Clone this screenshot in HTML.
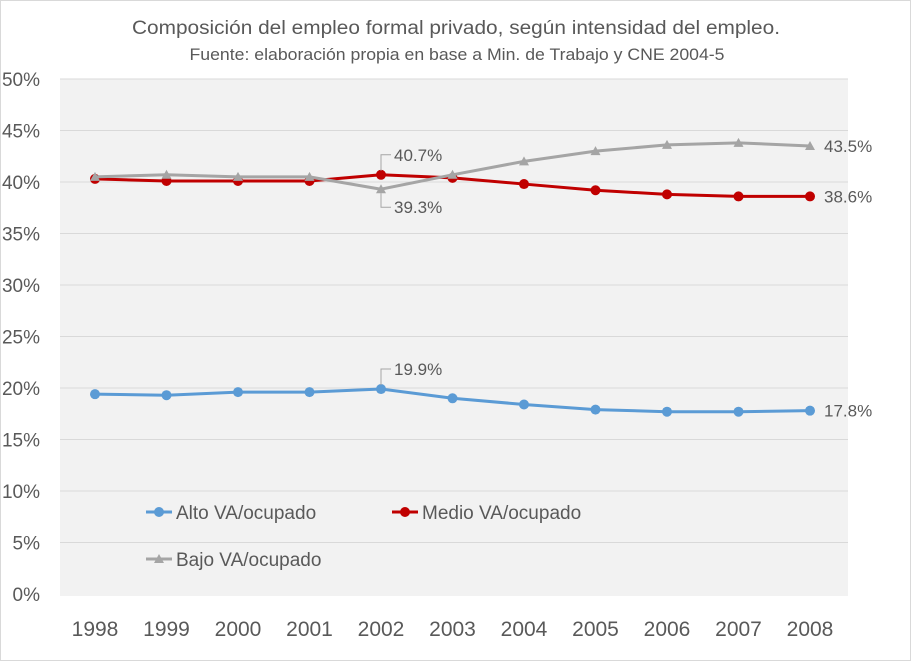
<!DOCTYPE html>
<html><head><meta charset="utf-8"><style>
body{margin:0;background:#fff;font-family:"Liberation Sans",sans-serif;}
svg text{font-family:"Liberation Sans",sans-serif;}
</style></head><body>
<svg width="912" height="662">
<rect x="0.5" y="0.5" width="910" height="660" fill="#fff" stroke="#d9d9d9"/>
<text x="456" y="34" text-anchor="middle" font-size="19" fill="#595959" textLength="648" lengthAdjust="spacingAndGlyphs">Composición  del empleo formal privado, según intensidad del empleo.</text>
<text x="457" y="60" text-anchor="middle" font-size="16.5" fill="#595959" textLength="535" lengthAdjust="spacingAndGlyphs">Fuente: elaboración propia en base a Min. de Trabajo y CNE 2004-5</text>
<rect x="60" y="79" width="788" height="517" fill="#f2f2f2"/>
<g id="grid"></g><g id="series"></g>
<g>
<line x1="146" y1="512" x2="172" y2="512" stroke="#5b9bd5" stroke-width="3"/><circle cx="159" cy="512" r="5" fill="#5b9bd5"/>
<text x="176" y="519" font-size="19" fill="#595959">Alto VA/ocupado</text>
<line x1="392" y1="512" x2="418" y2="512" stroke="#c00000" stroke-width="3"/><circle cx="405" cy="512" r="5" fill="#c00000"/>
<text x="422" y="519" font-size="19" fill="#595959">Medio VA/ocupado</text>
<line x1="146" y1="559" x2="172" y2="559" stroke="#a5a5a5" stroke-width="3"/><path d="M159 554 L164 563 L154 563Z" fill="#a5a5a5"/>
<text x="176" y="566" font-size="19" fill="#595959">Bajo VA/ocupado</text>
</g>
</svg>
<script>
const years=["1998","1999","2000","2001","2002","2003","2004","2005","2006","2007","2008"];
const alto=[19.4,19.3,19.6,19.6,19.9,19.0,18.4,17.9,17.7,17.7,17.8];
const medio=[40.3,40.1,40.1,40.1,40.7,40.4,39.8,39.2,38.8,38.6,38.6];
const bajo=[40.5,40.7,40.5,40.5,39.3,40.7,42.0,43.0,43.6,43.8,43.5];
const yTicks=[0,5,10,15,20,25,30,35,40,45,50];
const NS="http://www.w3.org/2000/svg";
const X=i=>95+i*71.5, Y=v=>594-v*10.3;
function mk(t,a,p){const e=document.createElementNS(NS,t);for(const k in a)e.setAttribute(k,a[k]);p.appendChild(e);return e;}
const g=document.getElementById('grid'), s=document.getElementById('series');
yTicks.forEach(v=>{
  if(v>0){const l=mk('line',{x1:60,x2:848,y1:Y(v),y2:Y(v),stroke:'#d9d9d9','stroke-width':1},g);
  
  }
  const t=mk('text',{x:40,y:Y(v)+7,'text-anchor':'end','font-size':19,fill:'#595959'},g);t.textContent=v+'%';
  
  
});
years.forEach((y,i)=>{const t=mk('text',{x:X(i),y:636,'text-anchor':'middle','font-size':21,fill:'#595959'},g);t.textContent=y;
  
  });
function series(d,c,name,tri){
  const p=mk('polyline',{points:d.map((v,i)=>X(i)+','+Y(v)).join(' '),fill:'none',stroke:c,'stroke-width':3,'stroke-linejoin':'round'},s);
  
  
  d.forEach((v,i)=>{let m;
    if(tri)m=mk('path',{d:`M${X(i)} ${Y(v)-5} L${X(i)+5} ${Y(v)+4} L${X(i)-5} ${Y(v)+4}Z`,fill:c},s);
    else m=mk('circle',{cx:X(i),cy:Y(v),r:5,fill:c},s);
    
    });
}
series(medio,'#c00000','medio',false);
series(bajo,'#a5a5a5','bajo',true);
series(alto,'#5b9bd5','alto',false);
function lab(x,y,txt){const t=mk('text',{x:x,y:y,'font-size':17,fill:'#595959'},s);t.textContent=txt;
  
  }
lab(X(10)+14,Y(bajo[10])+6,bajo[10].toFixed(1)+'%');
lab(X(10)+14,Y(medio[10])+6,medio[10].toFixed(1)+'%');
lab(X(10)+14,Y(alto[10])+6,alto[10].toFixed(1)+'%');
lab(X(4)+13,Y(medio[4])-14,medio[4].toFixed(1)+'%');
mk('path',{d:`M${X(4)} ${Y(medio[4])-4} V${Y(medio[4])-20} H${X(4)+10}`,fill:'none',stroke:'#a5a5a5'},s);
lab(X(4)+13,Y(bajo[4])+24,bajo[4].toFixed(1)+'%');
mk('path',{d:`M${X(4)} ${Y(bajo[4])+4} V${Y(bajo[4])+18} H${X(4)+10}`,fill:'none',stroke:'#a5a5a5'},s);
lab(X(4)+13,Y(alto[4])-14,alto[4].toFixed(1)+'%');
mk('path',{d:`M${X(4)} ${Y(alto[4])-4} V${Y(alto[4])-20} H${X(4)+10}`,fill:'none',stroke:'#a5a5a5'},s);
</script>
</body></html>
